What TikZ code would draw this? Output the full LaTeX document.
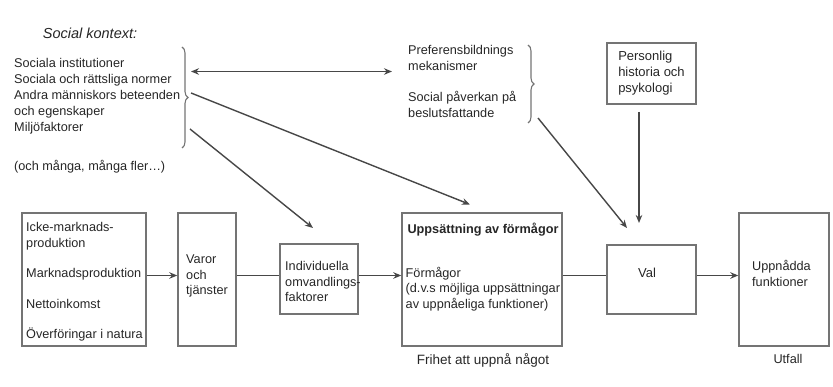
\documentclass[tikz,border=0pt]{standalone}
\usepackage{fontspec}
\setmainfont{Liberation Sans}
\usetikzlibrary{arrows.meta,decorations.pathreplacing}

\definecolor{inkc}{HTML}{262626}
\definecolor{linec}{HTML}{474747}
\definecolor{framec}{HTML}{747474}

\tikzset{
  box/.style={draw=framec, line width=1.4pt, inner sep=0pt},
  txt/.style={text=inkc, inner sep=0pt, align=left, font=\fontsize{12.7}{15.5}\selectfont},
  link/.style={draw=linec, line width=1.4pt},
  arr/.style={link, -{Stealth[length=8pt,width=6.5pt]}},
  dblarr/.style={link, {Stealth[length=8pt,width=6.5pt]}-{Stealth[length=8pt,width=6.5pt]}},
  curly/.style={draw=framec, line width=1.1pt, decorate, decoration={brace, amplitude=6pt}},
}

\begin{document}
\begin{tikzpicture}[x=1pt, y=-1pt]
\useasboundingbox (0,0) rectangle (833,387);

% social context column
\node[txt, font=\itshape\fontsize{14.5}{16}\selectfont] (ctxhead) at (90,33) {Social kontext:};
\node[txt, anchor=north west, font=\fontsize{12.7}{16}\selectfont] (ctxlist) at (14,56.5)
  {\strut Sociala institutioner\\
   Sociala och rättsliga normer\\
   Andra människors beteenden\\
   och egenskaper\\
   Miljöfaktorer\\[23pt]
   (och många, många fler…)};
\draw[curly] (182,47) -- (182,148);

% preference mechanisms
\node[txt, anchor=north west] (pref) at (408,43.5)
  {\strut Preferensbildnings\\
   mekanismer\\[16pt]
   Social påverkan på\\
   beslutsfattande};
\draw[curly] (528,45) -- (528,123);

% personal history
\node[box, txt, minimum width=89pt, minimum height=61pt, font=\fontsize{13}{16}\selectfont] (pers) at (651.5,73.5)
  {Personlig\\historia och\\psykologi};

% main row of boxes
\node[box, minimum width=124pt, minimum height=133pt] (res) at (84,279.5) {};
\node[box, minimum width=58pt, minimum height=133pt] (goods) at (207,279.5) {};
\node[box, minimum width=78pt, minimum height=70pt] (conv) at (319,279) {};
\node[box, minimum width=160pt, minimum height=133pt] (cap) at (482,279.5) {};
\node[box, minimum width=89pt, minimum height=69pt] (choice) at (651.5,279.5) {};
\node[box, minimum width=90pt, minimum height=133pt] (func) at (784,279.5) {};

% texts in the boxes
\node[txt, anchor=north west] (restxt) at (26,220.5)
  {\strut Icke-marknads-\\
   produktion\\[15pt]
   Marknadsproduktion\\[15pt]
   Nettoinkomst\\[15pt]
   Överföringar i natura};
\node[txt, anchor=north west] (goodstxt) at (186,252.5)
  {\strut Varor\\och\\tjänster};
\node[txt, anchor=north west] (convtxt) at (285,259.5)
  {\strut Individuella\\omvandlings-\\faktorer};
\node[txt, font=\bfseries\fontsize{12.7}{15.5}\selectfont] (captitle) at (483,230) {Uppsättning av förmågor};
\node[txt, anchor=north west] (captxt) at (405.5,266)
  {\strut Förmågor\\
   (d.v.s möjliga uppsättningar\\
   av uppnåeliga funktioner)};
\node[txt, font=\fontsize{13}{15.5}\selectfont] (choicetxt) at (647,273) {Val};
\node[txt, anchor=north west] (functxt) at (752,259.5)
  {\strut Uppnådda\\funktioner};

% captions under the boxes
\node[txt, anchor=base, font=\fontsize{13.5}{16}\selectfont] (freedom) at (483,365) {Frihet att uppnå något};
\node[txt, anchor=base] (outcome) at (788,364) {Utfall};

% free ends of the connectors
\coordinate (row) at (0,275.5);
\coordinate (ctxL) at (191,71.5);
\coordinate (ctxR) at (392,71.5);
\coordinate (brA) at (191,93);
\coordinate (capIn) at (470,204.5);
\coordinate (brB) at (190,129);
\coordinate (convIn) at (313,228);
\coordinate (brC) at (538,118);
\coordinate (choiceInA) at (627,228);
\coordinate (persOut) at (639,112);
\coordinate (choiceInB) at (639,223);

% connectors
\draw[dblarr] (ctxL) -- (ctxR);
\draw[arr] (brA) -- (capIn);
\draw[arr] (brB) -- (convIn);
\draw[arr] (brC) -- (choiceInA);
\draw[arr] (persOut) -- (choiceInB);

\draw[arr] (res.east |- row) -- (goods.west |- row);
\draw[link] (goods.east |- row) -- (conv.west |- row);
\draw[arr] (conv.east |- row) -- (cap.west |- row);
\draw[link] (cap.east |- row) -- (choice.west |- row);
\draw[arr] (choice.east |- row) -- (func.west |- row);
\end{tikzpicture}
\end{document}
